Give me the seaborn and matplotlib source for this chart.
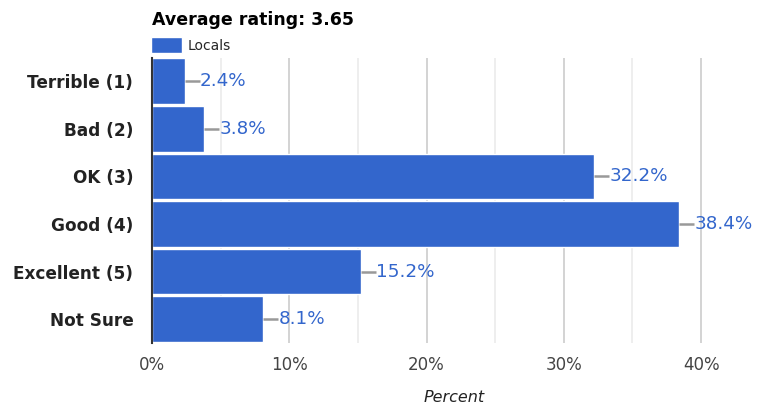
import numpy as np
import pandas as pd
import seaborn as sns
import matplotlib.pyplot as plt
from matplotlib.ticker import MultipleLocator, FuncFormatter

categories = ['Terrible (1)', 'Bad (2)', 'OK (3)', 'Good (4)', 'Excellent (5)', 'Not Sure']
locals_pct = [2.4, 3.8, 32.2, 38.4, 15.2, 8.1]
series_name = 'Locals'
title = 'Average rating: 3.65'

BLUE = '#3366CC'

sns.set_theme(style="white")
plt.rcParams['font.family'] = ['DejaVu Sans']

df = pd.DataFrame({'Category': categories, 'Percent': locals_pct})

fig = plt.figure(figsize=(7.67, 4.05), dpi=100)
ax = fig.add_axes([152 / 767, 1 - 343 / 405, 604 / 767, 285.5 / 405])

sns.barplot(data=df, x='Percent', y='Category', order=categories, color=BLUE,
            saturation=1, width=0.96, label=series_name, ax=ax, zorder=3)

ax.set_xlim(0, 44)
ax.set_ylim(len(categories) - 0.5, -0.5)
ax.xaxis.set_major_locator(MultipleLocator(10))
ax.xaxis.set_minor_locator(MultipleLocator(5))
ax.xaxis.set_major_formatter(FuncFormatter(lambda v, _: f"{v:.0f}%"))
ax.grid(axis='x', which='major', color='#cccccc', linewidth=1.2, zorder=0)
ax.grid(axis='x', which='minor', color='#ebebeb', linewidth=1.2, zorder=0)
ax.set_axisbelow(True)

for s in ['top', 'right', 'bottom']:
    ax.spines[s].set_visible(False)
ax.spines['left'].set_color('#333333')
ax.spines['left'].set_linewidth(1.5)
ax.spines['left'].set_zorder(5)

ax.tick_params(axis='x', which='both', length=0, pad=9.5, labelsize=12, labelcolor='#444444')
ax.tick_params(axis='y', length=0, pad=13.5, labelsize=12.2, labelcolor='#222222')
for t in ax.get_yticklabels():
    t.set_fontweight('bold')

# value labels with connector
for i, v in enumerate(locals_pct):
    ax.plot([v, v + 1.1], [i, i], color='#999999', linewidth=1.8, zorder=4,
            solid_capstyle='butt')
    ax.text(v + 1.1, i, f"{v:.1f}%", color=BLUE, fontsize=13.2, va='center', ha='left', zorder=4)

ax.set_ylabel('')
ax.set_xlabel('Percent', fontsize=11.5, style='italic', color='#222222', labelpad=11.5)

fig.text(152 / 767, 1 - 20 / 405, title, fontsize=12.5, fontweight='bold',
         color='#000000', va='center', ha='left')
leg = ax.legend(loc='lower left', bbox_to_anchor=(-0.006, 1.005), frameon=False,
                fontsize=10, handlelength=2.2, handleheight=1.4, handletextpad=0.4,
                borderpad=0.1, borderaxespad=0.1)

fig.savefig('out.png', dpi=100)
